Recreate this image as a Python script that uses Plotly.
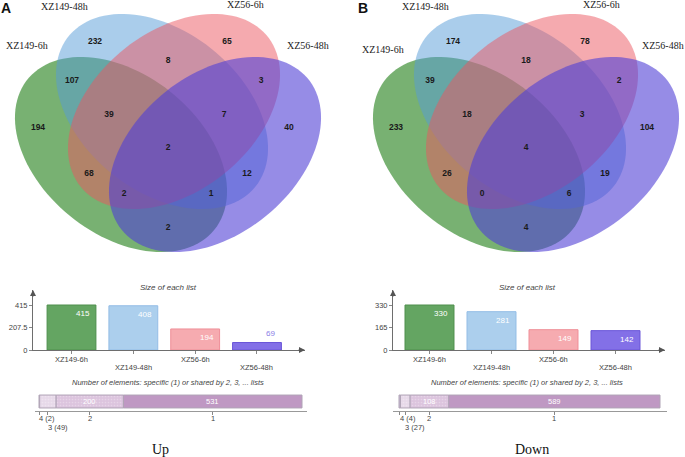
import numpy as np
import plotly.graph_objects as go

W, H = 685, 457

# ---------------- data ----------------
set_names = ["XZ149-6h", "XZ149-48h", "XZ56-6h", "XZ56-48h"]

# Venn regions (G=XZ149-6h, B=XZ149-48h, P=XZ56-6h, V=XZ56-48h)
region_keys = ["B", "P", "GB", "BP", "PV", "G", "GBP", "BPV", "V",
               "GBPV", "GP", "BV", "GPV", "GBV", "GV"]
up_regions = [232, 65, 107, 8, 3, 194, 39, 7, 40, 2, 68, 12, 2, 1, 2]
down_regions = [174, 78, 39, 18, 2, 233, 18, 3, 104, 4, 26, 19, 0, 6, 4]

up_sizes = [415, 408, 194, 69]
down_sizes = [330, 281, 149, 142]
up_yticks = [0, 207.5, 415]
down_yticks = [0, 165, 330]

shared_levels = [4, 3, 2, 1]
up_shared = [2, 49, 200, 531]
down_shared = [4, 27, 108, 589]

panel_letters = ["A", "B"]
panel_titles = ["Up", "Down"]
size_title = "Size of each list"
shared_title = "Number of elements: specific (1) or shared by 2, 3, ... lists"

# ---------------- layout helpers (pixels) ----------------
region_pos = [(95, 42), (227, 42), (72, 81), (168, 61), (261, 81), (38, 128),
              (109, 115), (224, 115), (289, 128), (168, 148), (89, 174),
              (247, 174), (124, 194), (211, 194), (168, 228)]
panel_dx = [0, 358]

ell_a, ell_b, ell_ang = 119.9, 79.9, 38.75
ell_centers = [(121, 154.5, ell_ang), (162, 111.5, ell_ang),
               (174, 111.5, 180 - ell_ang), (215, 154.5, 180 - ell_ang)]
ell_fills = ["rgba(30,125,20,0.6)", "rgba(85,155,215,0.5)",
             "rgba(235,85,95,0.5)", "rgba(80,63,213,0.6)"]
bar_fills = ["rgba(92,160,90,0.95)", "rgba(168,204,236,0.95)",
             "rgba(246,166,172,0.95)", "rgba(124,104,230,0.95)"]
bar_lines = ["#4e8f4c", "#93bde6", "#ef8f98", "#6a55d8"]
small_label_colors = ["#4e8f4c", "#7fb0e0", "#ef8f98", "#8a7ee6"]
set_label_pos = [(27, 45), (64, 6), (245, 4), (308, 45)]
set_label_pos_b = [(383, 49), (425, 6), (601, 4), (663, 45)]
seg_colors = ["#cbbcd4", "#e7d9e9", "#dcc4de", "#bf98c3"]

SANS = "Arial, Liberation Sans, sans-serif"
SERIF = "Times New Roman, Liberation Serif, Tinos, Nimbus Roman, serif"


def ellipse_path(cx, cy, a, b, ang, n=120):
    t = np.linspace(0, 2 * np.pi, n)
    r = np.deg2rad(ang)
    x = cx + a * np.cos(t) * np.cos(r) - b * np.sin(t) * np.sin(r)
    y = cy + a * np.cos(t) * np.sin(r) + b * np.sin(t) * np.cos(r)
    return "M " + " L ".join(f"{xi:.2f},{yi:.2f}" for xi, yi in zip(x, y)) + " Z"


fig = go.Figure()
shapes = []
annotations = []

# ---------------- Venn diagrams ----------------
for p, (counts, dx) in enumerate(zip([up_regions, down_regions], panel_dx)):
    for (cx, cy, ang), col in zip(ell_centers, ell_fills):
        shapes.append(dict(type="path", xref="x", yref="y",
                           path=ellipse_path(cx + dx, cy, ell_a, ell_b, ang),
                           fillcolor=col, line=dict(width=0), layer="below"))
    fig.add_trace(go.Scatter(
        x=[px + dx for px, py in region_pos], y=[py for px, py in region_pos],
        text=[str(c) for c in counts], mode="text", xaxis="x", yaxis="y",
        textfont=dict(family=SANS, size=8.5, color="#1a1a1a", weight="bold"),
        hoverinfo="skip", showlegend=False))
    lbl_pos = set_label_pos if p == 0 else set_label_pos_b
    for name, (lx, ly) in zip(set_names, lbl_pos):
        annotations.append(dict(xref="x", yref="y", x=lx, y=ly, text=name,
                                showarrow=False, xanchor="center", yanchor="middle",
                                font=dict(family=SERIF, size=10, color="#222")))
    annotations.append(dict(xref="x", yref="y", x=[6, 363][p], y=8,
                            text=panel_letters[p], showarrow=False,
                            font=dict(family=SANS, size=14, color="#111", weight="bold")))
    annotations.append(dict(xref="x", yref="y", x=[160, 532][p], y=449,
                            text=panel_titles[p], showarrow=False,
                            font=dict(family=SERIF, size=14, color="#111")))

# ---------------- Size-of-each-list bar charts ----------------
bar_geo = [  # (x pixel start, x pixel end, first bar center, spacing)
    (33, 305, 71.5, 61.83),
    (393, 665, 429.5, 62.0),
]
for p, (sizes, yt) in enumerate(zip([up_sizes, down_sizes], [up_yticks, down_yticks])):
    xa, ya = f"x{2 + 2 * p}", f"y{2 + 2 * p}"
    x0, x1, c0, sp = bar_geo[p]
    ymax = yt[-1] * 60 / 45
    fig.add_trace(go.Bar(
        x=list(range(len(sizes))), y=sizes, width=0.79, xaxis=xa, yaxis=ya,
        marker=dict(color=bar_fills, line=dict(color=bar_lines, width=1)),
        hoverinfo="skip", showlegend=False))
    fig.layout[f"xaxis{2 + 2 * p}"] = dict(
        domain=[x0 / W, x1 / W], anchor=ya,
        range=[(x0 - c0) / sp, (x1 - c0) / sp],
        tickvals=list(range(len(sizes))), ticktext=["" for _ in sizes],
        showline=True, linecolor="#6e6e6e", linewidth=1,
        ticks="outside", ticklen=3, tickcolor="#888",
        showgrid=False, zeroline=False, fixedrange=True, automargin=False)
    fig.layout[f"yaxis{2 + 2 * p}"] = dict(
        domain=[1 - 350 / H, 1 - 290 / H], anchor=xa, range=[0, ymax],
        tickvals=yt, ticktext=[f"{v:g}" for v in yt],
        showline=True, linecolor="#6e6e6e", linewidth=1,
        ticks="outside", ticklen=3, tickcolor="#888",
        tickfont=dict(family=SANS, size=7.5, color="#444"),
        showgrid=False, zeroline=False, fixedrange=True, automargin=False)
    # category labels, staggered
    for i, n in enumerate(set_names):
        annotations.append(dict(xref=xa, yref="y", x=i, y=359 if i % 2 == 0 else 367,
                                text=n, showarrow=False, yanchor="middle",
                                font=dict(family=SANS, size=7.5, color="#444")))
    # arrowheads
    annotations.append(dict(xref=f"{xa} domain", yref=f"{ya} domain", x=1, y=0,
                            ax=-8, ay=0, showarrow=True, arrowhead=2, arrowsize=1,
                            arrowwidth=1.2, arrowcolor="#555", text=""))
    annotations.append(dict(xref=f"{xa} domain", yref=f"{ya} domain", x=0, y=1,
                            ax=0, ay=8, showarrow=True, arrowhead=2, arrowsize=1,
                            arrowwidth=1.2, arrowcolor="#555", text=""))
    # value labels
    for i, v in enumerate(sizes):
        small = v / ymax * 60 < 12
        annotations.append(dict(
            xref=xa, yref=ya, x=i + 0.395, y=v, text=str(v), showarrow=False,
            xanchor="right", xshift=-4, yanchor="bottom" if small else "top",
            yshift=3 if small else -2,
            font=dict(family=SANS, size=8,
                      color=small_label_colors[i] if small else "white")))
    annotations.append(dict(xref="x", yref="y", x=[168, 527][p], y=287,
                            text=f"<i>{size_title}</i>", showarrow=False,
                            font=dict(family=SANS, size=8, color="#444")))

# ---------------- Shared-elements horizontal stacked bars ----------------
shared_geo = [  # (axis px start, axis px end, px of value 0, px per unit)
    (35, 307, 39, 263 / 782),
    (393, 667, 399, 261 / 728),
]
for p, counts in enumerate([up_shared, down_shared]):
    xa, ya = f"x{3 + 2 * p}", f"y{3 + 2 * p}"
    a0, a1, z0, k = shared_geo[p]
    bases = np.concatenate([[0], np.cumsum(counts)[:-1]])
    mids = bases + np.array(counts) / 2
    for j, (lvl, c) in enumerate(zip(shared_levels, counts)):
        fig.add_trace(go.Bar(
            x=[c], y=[0], base=[bases[j]], orientation="h", width=0.68,
            xaxis=xa, yaxis=ya,
            marker=dict(color=seg_colors[j], line=dict(color="#b0a4b6", width=1),
                        pattern=dict(shape="." if lvl in (2, 3) else "",
                                     fgcolor="rgba(255,255,255,0.55)", size=3,
                                     solidity=0.25)),
            hoverinfo="skip", showlegend=False))
        if c >= 100:
            annotations.append(dict(xref=xa, yref="y", x=mids[j], y=401.5,
                                    text=str(c), showarrow=False, yanchor="middle",
                                    font=dict(family=SANS, size=7.5, color="white")))
    fig.layout[f"xaxis{3 + 2 * p}"] = dict(
        domain=[a0 / W, a1 / W], anchor=ya,
        range=[(a0 - z0) / k, (a1 - z0) / k],
        tickvals=list(mids), ticktext=["" for _ in mids],
        showline=True, linecolor="#999", linewidth=1,
        ticks="outside", ticklen=3, tickcolor="#888",
        showgrid=False, zeroline=False, fixedrange=True, automargin=False)
    fig.layout[f"yaxis{3 + 2 * p}"] = dict(
        domain=[1 - 411 / H, 1 - 392 / H], anchor=xa, range=[-0.5, 0.5],
        visible=False, fixedrange=True, automargin=False)
    for j, (lvl, c) in enumerate(zip(shared_levels, counts)):
        if lvl >= 3:
            txt, anc, yy, xs = f"{lvl} ({c})", "left", (418 if lvl == 4 else 427), -2
        else:
            txt, anc, yy, xs = str(lvl), "center", 418, 0
        annotations.append(dict(xref=xa, yref="y", x=mids[j], y=yy, text=txt,
                                showarrow=False, xanchor=anc, xshift=xs,
                                yanchor="middle",
                                font=dict(family=SANS, size=7.5, color="#444")))
    annotations.append(dict(xref="x", yref="y", x=[168, 527][p], y=382,
                            text=f"<i>{shared_title}</i>", showarrow=False,
                            font=dict(family=SANS, size=7.5, color="#444")))

fig.update_layout(
    width=W, height=H, margin=dict(l=0, r=0, t=0, b=0, pad=0),
    paper_bgcolor="white", plot_bgcolor="rgba(0,0,0,0)",
    barmode="overlay", showlegend=False,
    xaxis=dict(domain=[0, 1], range=[0, W], visible=False, fixedrange=True,
               automargin=False),
    yaxis=dict(domain=[0, 1], range=[H, 0], visible=False, fixedrange=True,
               automargin=False),
    shapes=shapes, annotations=annotations,
)

post = ("document.body.style.margin='0';"
        "document.documentElement.style.overflow='hidden';"
        "document.body.style.overflow='hidden';"
        "var gd=document.getElementById('{plot_id}');"
        "Plotly.relayout(gd,{width:window.innerWidth,height:window.innerHeight});")
fig.write_html("out.html", config={"displayModeBar": False}, post_script=post)
